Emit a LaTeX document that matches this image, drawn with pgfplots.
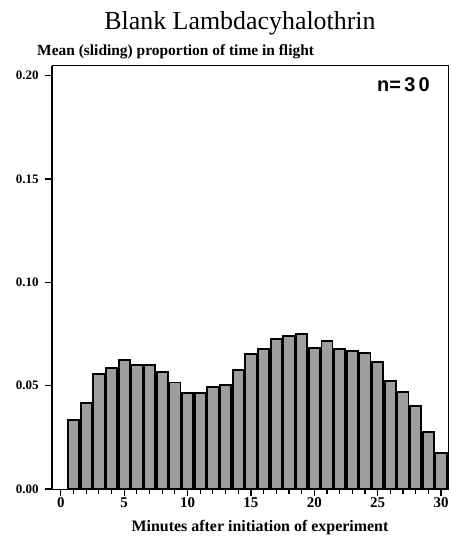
\documentclass[border=0pt]{standalone}
\usepackage{fontspec}
\setmainfont{Liberation Serif}
\newfontfamily\nfont{Liberation Sans}
\usepackage{pgfplots}
\pgfplotsset{compat=1.18}
\begin{document}
\begin{tikzpicture}
\begin{axis}[
  scale only axis,
  width=396bp, height=423bp,
  xmin=-0.7, xmax=30.55,
  ymin=0, ymax=0.2047,
  xtick={0,5,...,30},
  minor xtick={0,1,...,30},
  ytick={0,0.05,0.10,0.15,0.20},
  yticklabels={0.00,0.05,0.10,0.15,0.20},
  xticklabel style={font=\bfseries\fontsize{15}{16}\selectfont, yshift=2bp},
  yticklabel style={font=\bfseries\fontsize{13}{14}\selectfont, xshift=-3bp},
  /pgf/number format/assume math mode=true,
  tick align=outside,
  major tick length=7bp,
  minor tick length=5bp,
  tick style={black, line width=1.1pt},
  xtick pos=bottom, ytick pos=left,
  axis line style={line width=1pt},
  axis background/.style={fill=white},
]
\addplot[ybar, bar width=0.88, fill=black!38, draw=black, line width=1.8pt]
coordinates {
(1,0.0334) (2,0.0415) (3,0.0555) (4,0.0584) (5,0.0624)
(6,0.0599) (7,0.0599) (8,0.0566) (9,0.0515) (10,0.0466)
(11,0.0466) (12,0.0492) (13,0.0502) (14,0.0576) (15,0.0653)
(16,0.0676) (17,0.0726) (18,0.0741) (19,0.0750) (20,0.0684)
(21,0.0718) (22,0.0678) (23,0.0669) (24,0.0660) (25,0.0616)
(26,0.0524) (27,0.0468) (28,0.0403) (29,0.0274) (30,0.0173)
};
\end{axis}
\draw[line width=2.5pt] (current axis.south west) -- (current axis.north west);
\node[anchor=center] at ([shift={(188bp,466bp)}]current axis.south west)
  {\fontsize{26}{30}\selectfont Blank Lambdacyhalothrin};
\node[anchor=west, inner sep=0pt] at ([shift={(-15bp,437bp)}]current axis.south west)
  {\bfseries\fontsize{15.5}{18}\selectfont Mean (sliding) proportion of time in flight};
\node[anchor=east, inner sep=0pt] at ([shift={(378bp,404bp)}]current axis.south west)
  {\nfont\bfseries\fontsize{20}{22}\selectfont n=\,3\,0};
\node[anchor=center] at ([shift={(208bp,-39bp)}]current axis.south west)
  {\bfseries\fontsize{16}{18}\selectfont Minutes after initiation of experiment};
\pgfresetboundingbox
\path ([shift={(-52bp,-52bp)}]current axis.south west) rectangle ++(451bp,541bp);
\end{tikzpicture}
\end{document}
